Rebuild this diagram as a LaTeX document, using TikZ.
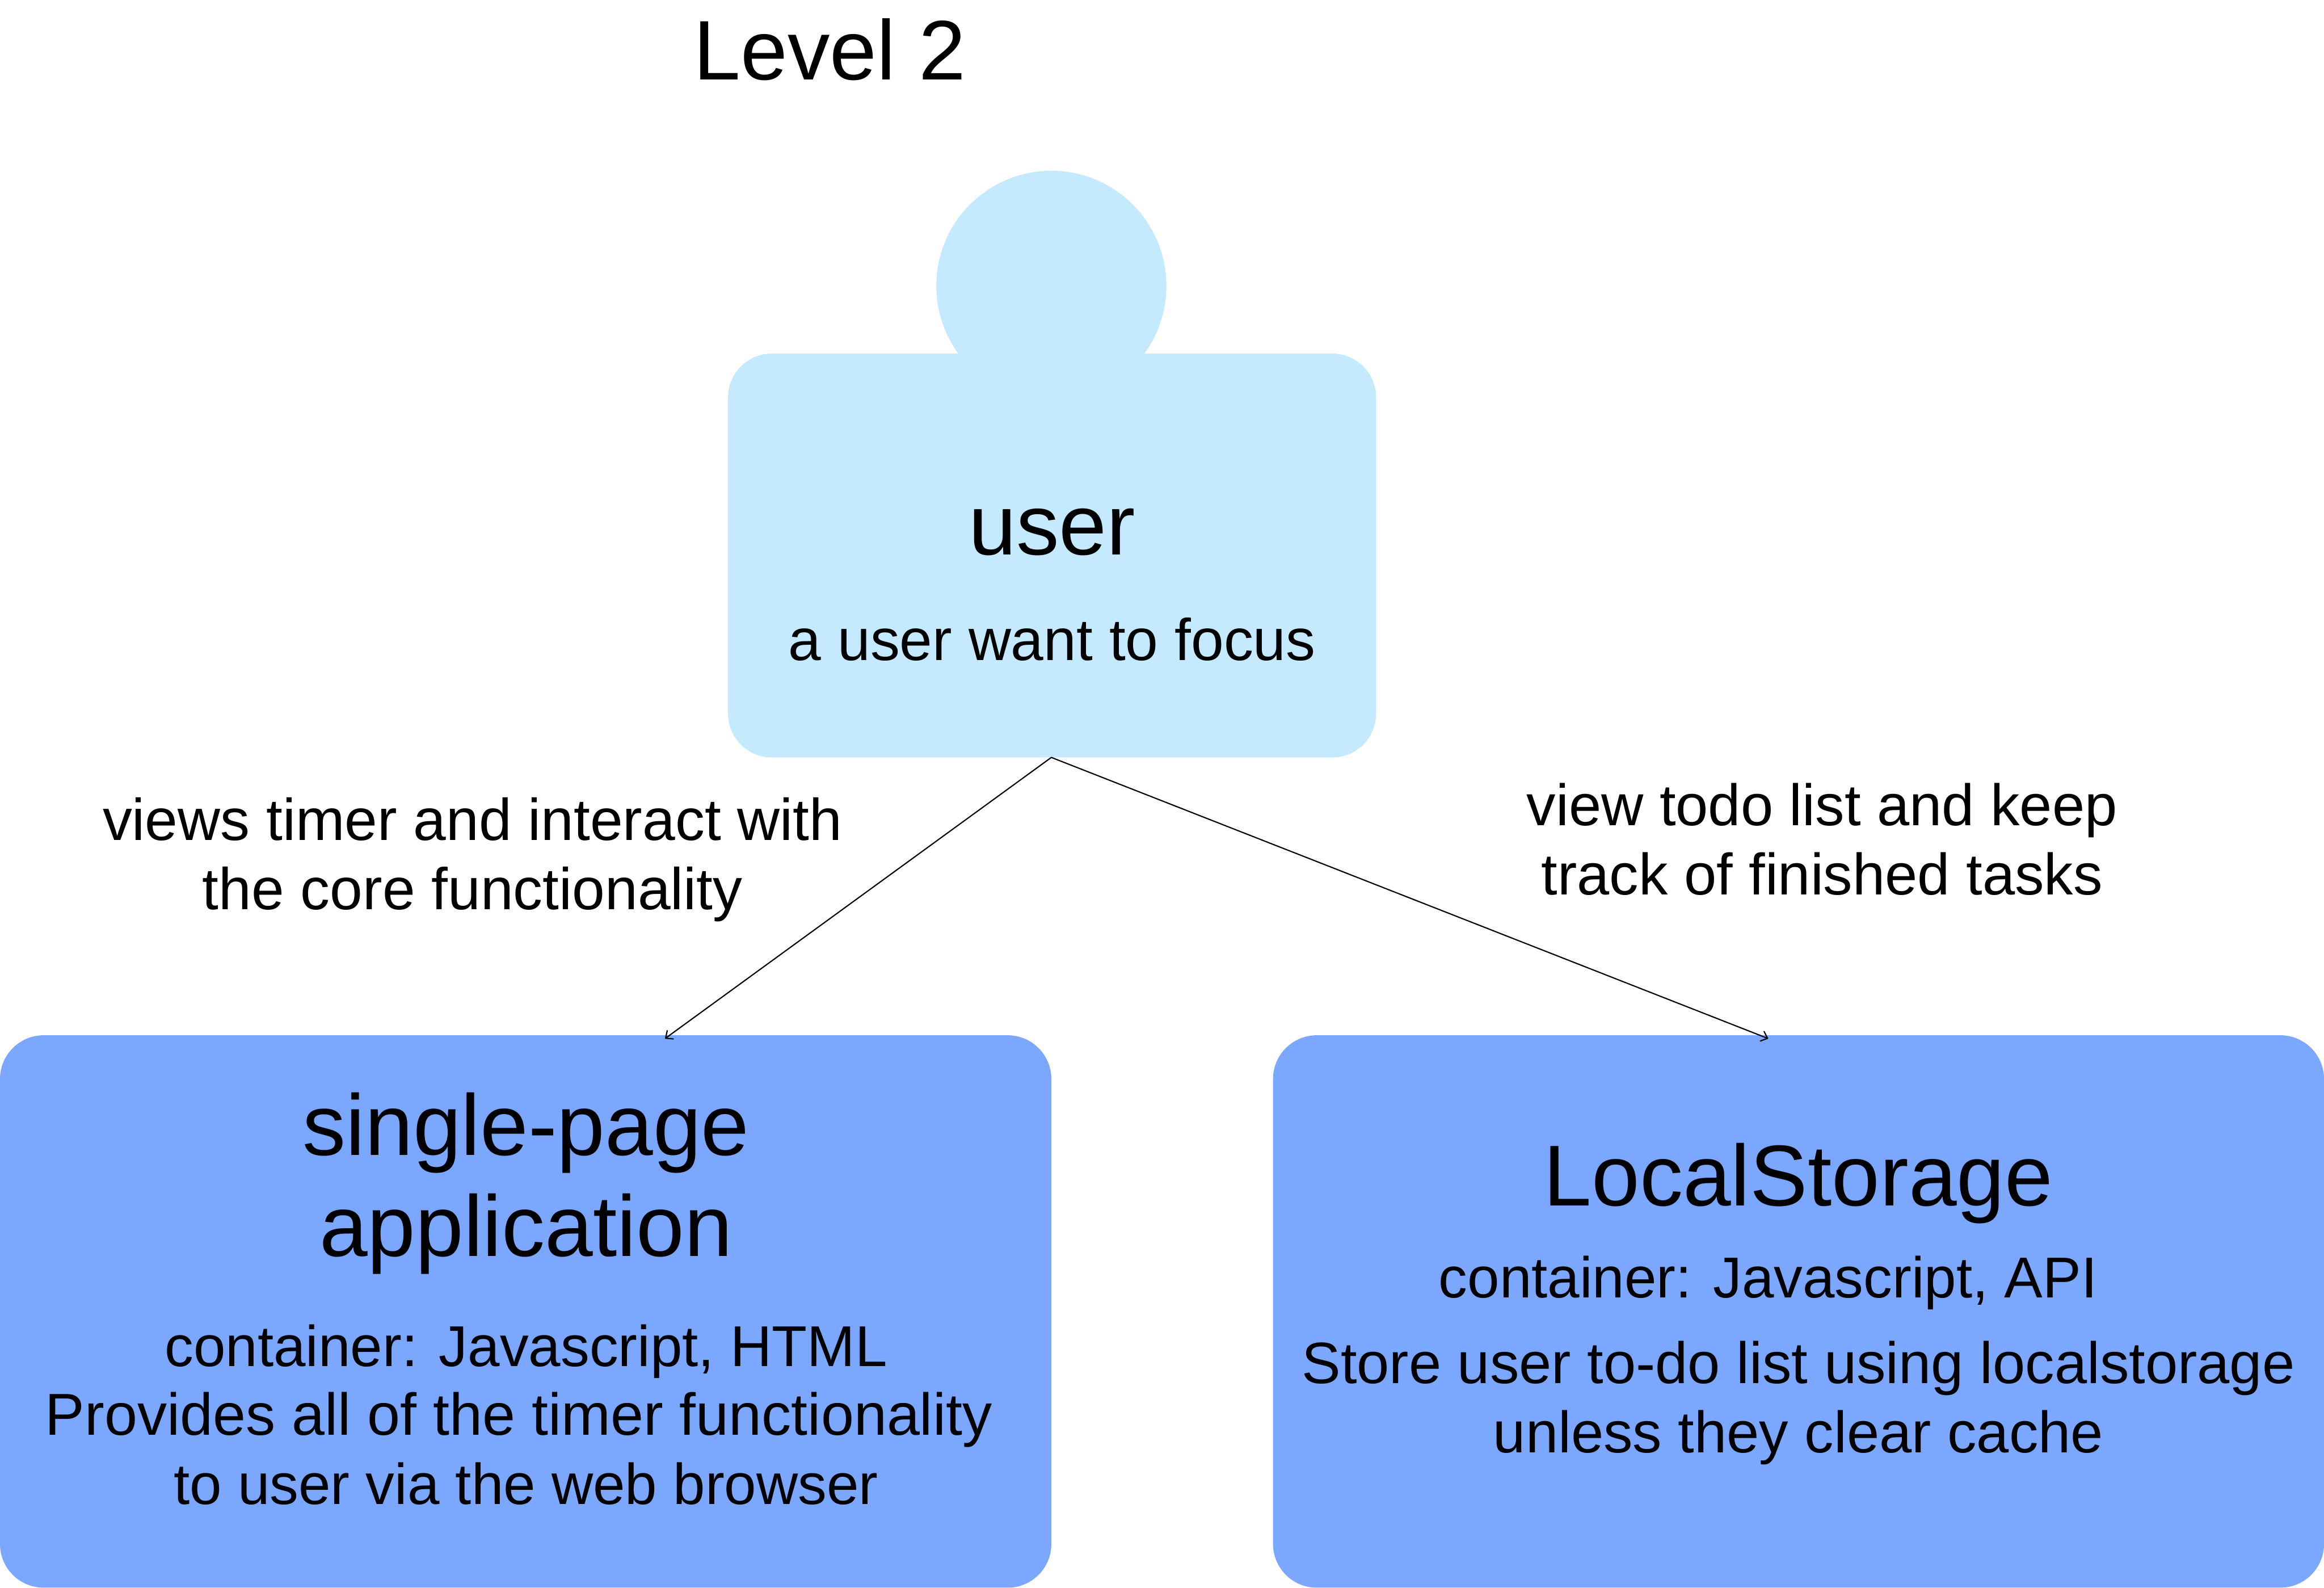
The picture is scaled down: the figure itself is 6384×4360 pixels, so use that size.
\documentclass[tikz,border=0pt]{standalone}
\usepackage{fontspec}
\setmainfont{Liberation Sans}
\usetikzlibrary{arrows.meta}
\definecolor{lightb}{HTML}{C5E9FF}
\definecolor{darkb}{HTML}{7BA7FF}
\tikzset{
 x=0.01cm,y=-0.01cm,
 lbl/.style={align=center,inner sep=0pt,text=black,font=\fontsize{#1}{54}\selectfont},
 lbl/.default=45.6,
 ttl/.style={align=center,inner sep=0pt,text=black,font=\fontsize{#1}{79}\selectfont},
 ttl/.default=67.5,
 box/.style={rounded corners=1.2cm},
 conn/.style={draw=black,line width=0.95pt,line cap=round,-{Straight Barb[length=4.5pt,width=8pt,round]}}
}
\begin{document}
\begin{tikzpicture}
\useasboundingbox (0,0) rectangle (6384,4360);
\fill[lightb] (2888,785) circle (316);
\fill[lightb,box] (2000,971) rectangle (3780,2080);
\coordinate (ua) at (2888,2080);
\fill[darkb,box] (0,2843) rectangle (2888,4360);
\fill[darkb,box] (3497,2843) rectangle (6384,4360);
\coordinate (sa) at (1827,2852);
\coordinate (la) at (4857,2852);
\node[ttl=66] (lvl) at (2280,136) {Level 2};
\node[ttl=67] (user) at (2890,1461) {user};
\node[lbl=46] (userd) at (2890,1756) {a user want to focus};
\node[lbl=46] (l1) at (1298,2361) {views timer and interact with\\the core functionality};
\node[lbl=45.6] (l2) at (5005,2305) {view todo list and keep\\track of finished tasks};
\node[ttl] (sp) at (1445,3250) {single-page\\application};
\node[lbl=45] (spd) at (1445,3885) {container: Javascript, HTML\\{\fontsize{46.2}{54}\selectfont Provides all of the timer functionality\rule{0.4cm}{0pt}}\\to user via the web browser};
\node[ttl] (ls) at (4940,3250) {LocalStorage};
\node[lbl=45] (lsc) at (4857,3522) {container: Javascript, API};
\node[lbl] (lsd) at (4940,3852) {Store user to-do list using localstorage\\unless they clear cache};
\draw[conn] (ua) -- (sa);
\draw[conn] (ua) -- (la);
\end{tikzpicture}
\end{document}
